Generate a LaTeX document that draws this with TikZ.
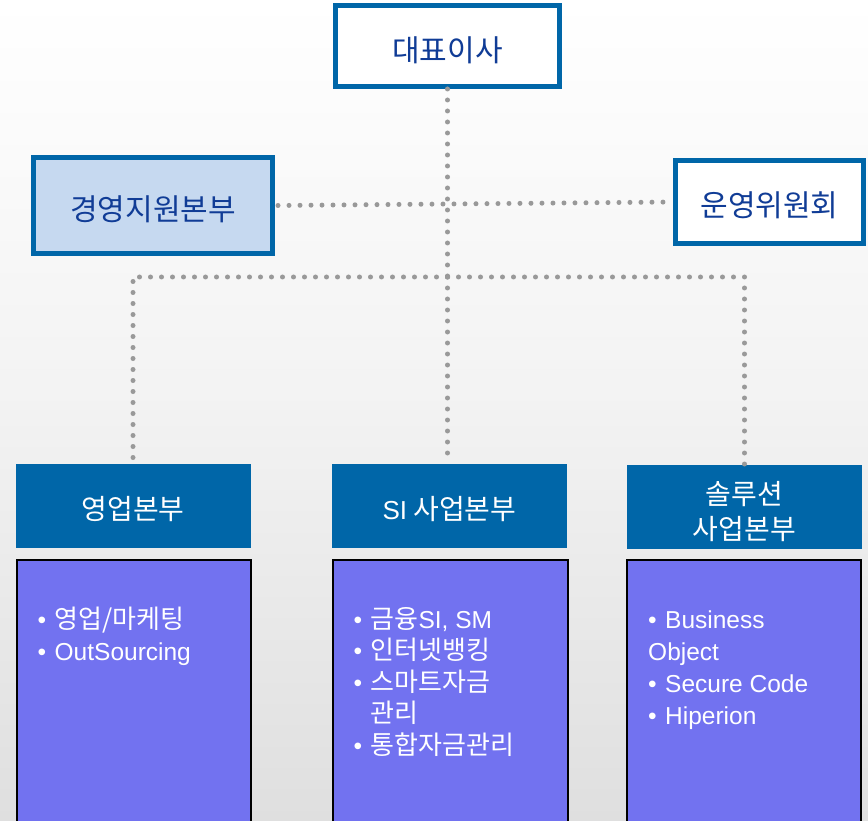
\documentclass[tikz,border=0pt]{standalone}
\usepackage{fontspec}
\setmainfont{Noto Sans CJK KR}
\newfontfamily\lat{Liberation Sans}
\usetikzlibrary{calc}
\definecolor{orgblue}{HTML}{0066A8}
\definecolor{txtblue}{HTML}{103C96}
\definecolor{lightfill}{HTML}{C6D9F0}
\definecolor{purplefill}{HTML}{7272F0}
\definecolor{dotgray}{HTML}{999999}
\definecolor{bgbottom}{HTML}{DFDFDF}
\tikzset{
  topbox/.style={draw=orgblue, line width=5pt, fill=white, text=txtblue, font=\fontsize{30}{34}\selectfont, inner sep=0pt, text height=30pt, text depth=0pt},
  headbox/.style={fill=orgblue, text=white, font=\fontsize{28}{35}\selectfont, align=center, inner sep=0pt, minimum width=235pt, minimum height=84pt, text height=27.5pt, text depth=0pt},
  listbox/.style={draw=black, line width=2pt, fill=purplefill, minimum width=234pt, minimum height=280pt, inner sep=0pt},
  listtext/.style={text=white, font=\fontsize{26}{31.5}\selectfont, align=left, anchor=north west, inner sep=0pt},
  dotline/.style={draw=dotgray, line width=5pt, line cap=round, dash pattern=on 0pt off 11pt}
}
\newcommand{\bul}{\makebox[17pt][l]{\lat\fontsize{24.5}{31.5}\selectfont •}}
\newcommand{\lt}[1]{{\lat\fontsize{24.5}{31.5}\selectfont #1}}
\begin{document}
\begin{tikzpicture}[x=1pt,y=-1pt]
\useasboundingbox (0,0) rectangle (868,821);
\shade[top color=white, bottom color=bgbottom, middle color=white!60!bgbottom] (0,0) rectangle (868,821);

% top level
\node[topbox, minimum width=224pt, minimum height=81pt, text height=32pt] (ceo) at (447.5,46) {대표이사};
\node[topbox, fill=lightfill, minimum width=239pt, minimum height=96pt] (mgmt) at (153,205.5) {경영지원본부};
\node[topbox, minimum width=188pt, minimum height=83pt] (comm) at (769.5,202) {운영위원회};

% division headers
\node[headbox] (sales) at (133,506) {영업본부};
\node[headbox] (si) at (449.5,506) {{\lat\fontsize{26}{30}\selectfont SI} 사업본부};
\node[headbox, text height=64.5pt] (sol) at (744.5,507) {솔루션\\사업본부};

% list boxes
\node[listbox] (l1) at (133.5,700) {};
\node[listbox, minimum width=235pt] (l2) at (450,700) {};
\node[listbox] (l3) at (744,700) {};

\node[listtext] (t1) at ($(l1.north west)+(22,48)$) {\bul 영업/마케팅\\\bul \lt{OutSourcing}};
\node[listtext] (t2) at ($(l2.north west)+(22,48)$) {\bul 금융\lt{SI, SM}\\\bul 인터넷뱅킹\\\bul 스마트자금\\\hspace*{17pt}관리\\\bul 통합자금관리};
\node[listtext, font=\fontsize{26}{32}\selectfont] (t3) at ($(l3.north west)+(22,52)$) {\bul \lt{Business}\\\lt{Object}\\\bul \lt{Secure Code}\\\bul \lt{Hiperion}};

% connectors
\coordinate (hub) at (ceo.south |- 0,277);
\draw[dotline] (ceo.south) -- (hub);
\draw[dotline] (mgmt.east) ++(3,0) -- (comm.west);
\draw[dotline] (hub) -- (hub -| sales.north) -- (sales.north);
\draw[dotline] (hub) -- (hub -| sol.north) -- (sol.north);
\draw[dotline] (hub) -- (hub |- si.north);
\end{tikzpicture}
\end{document}
